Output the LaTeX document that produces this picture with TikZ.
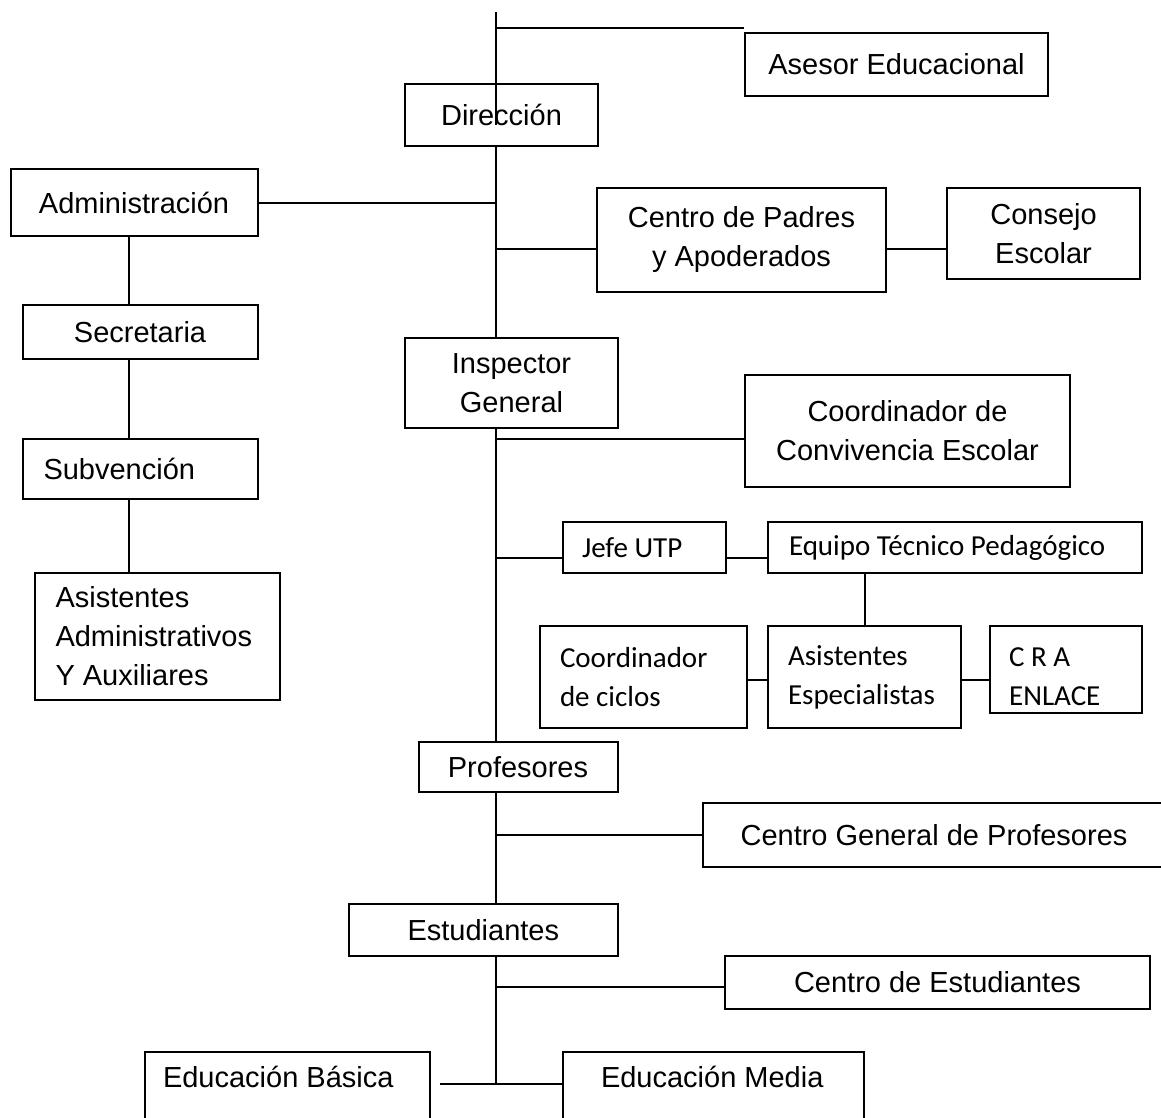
\documentclass[tikz,border=0pt]{standalone}
\usepackage{fontspec}
\setmainfont{Liberation Sans}
\newfontfamily\calibri{Carlito}
\begin{document}
\begin{tikzpicture}[x=1pt, y=-1pt, line width=2pt,
    org/.style={draw, inner sep=0pt, align=center, font=\fontsize{29}{39}\selectfont},
    sz/.style 2 args={minimum width=#1pt, minimum height=#2pt},
    lft/.style 2 args={align=left, inner xsep=#1pt, text width=#2pt,
        execute at begin node={\spaceskip=0pt\xspaceskip=0pt}},
    cal/.style={font=\calibri\fontsize{29}{39}\selectfont}]
\useasboundingbox (0,0) rectangle (1161,1118);
\clip (0,0) rectangle (1161,1118);

% main column
\node[org, sz={303}{63}] (ases) at (896.5,64.5) {Asesor Educacional};
\node[org, sz={193}{62}] (dir) at (501.5,115) {Dirección};
\node[org, sz={289}{104}] (padres) at (741.5,240) {Centro de Padres\\y Apoderados};
\node[org, sz={193}{91}] (consejo) at (1043.5,233.5) {Consejo\\Escolar};
\node[org, sz={213}{90}] (insp) at (511.5,383) {Inspector\\General};
\node[org, sz={325}{112}] (conv) at (907.5,431) {Coordinador de\\Convivencia Escolar};
\node[org, sz={199}{50}] (prof) at (518,767) {Profesores};
\node[org, sz={462}{64}] (cgp) at (934,835) {Centro General de Profesores};
\node[org, sz={269}{52}] (est) at (483.3,930) {Estudiantes};
\node[org, sz={425}{53}] (cest) at (937.5,982.5) {Centro de Estudiantes};
\node[org, sz={285}{88}, lft={18}{249}] (basica) at (287.5,1096) {Educación Básica\\\mbox{}};
\node[org, sz={301}{88}, lft={38}{225}] (media) at (713.5,1096) {Educación Media\\\mbox{}};

% left column
\node[org, sz={247}{67}] (admin) at (134,202.5) {Administración};
\node[org, sz={235}{54}] (sec) at (140,332) {Secretaria};
\node[org, sz={235}{60}, lft={21}{193}] (subv) at (140,469) {Subvención};
\node[org, sz={245}{127}, lft={20.5}{204}] (asad) at (157.5,636.5) {Asistentes\\Administrativos\\Y Auxiliares};

% UTP
\node[org, cal, sz={163}{51}, lft={19}{125}] (jefe) at (644.5,547.5) {Jefe UTP};
\node[org, cal, sz={374}{51}, lft={21}{332}] (equipo) at (955,547.5) {Equipo Técnico Pedagógico};
\node[org, cal, sz={207}{102}, lft={20.5}{166}] (ciclos) at (643,677) {Coordinador\\de ciclos};
\node[org, cal, sz={193}{102}, lft={20}{153}] (ae) at (864.5,677) {Asistentes\\Especialistas};
\node[org, cal, sz={152}{87}, lft={19.4}{113}, text height=34pt] (cra) at (1065.6,669.5) {C R A\\ENLACE};

\coordinate (t) at (496,12);
\coordinate (l) at (129,0);
\coordinate (ja) at (496,28);
\coordinate (jp) at (496,249);
\coordinate (jc) at (496,439);
\coordinate (ju) at (496,558);
\coordinate (jk) at (864,680);
\coordinate (jg) at (496,835);
\coordinate (je) at (496,987);
\coordinate (jb) at (496,1084);

\draw (t) -- ([yshift=-10pt]t |- dir.center);
\draw (ja) -- (ja -| ases.west);
\foreach \a/\b in {dir.south/insp.north, insp.south/prof.north, prof.south/est.north}
    \draw (t |- \a) -- (t |- \b);
\draw (t |- est.south) -- (jb);
\draw (admin.east) -- (t |- admin.east);
\draw (jp) -- (jp -| padres.west);
\draw (jp -| padres.east) -- (jp -| consejo.west);
\foreach \a/\b in {admin/sec, sec/subv, subv/asad}
    \draw (l |- \a.south) -- (l |- \b.north);
\draw (jc) -- (jc -| conv.west);
\draw (ju) -- (ju -| jefe.west);
\draw (ju -| jefe.east) -- (ju -| equipo.west);
\draw (equipo.south -| ae.north) -- (ae.north);
\draw (jk -| ciclos.east) -- (jk -| ae.west);
\draw (jk -| ae.east) -- (jk -| cra.west);
\draw (jg) -- (jg -| cgp.west);
\draw (je) -- (je -| cest.west);
\draw ([xshift=9pt]jb -| basica.east) -- (jb -| media.west);
\end{tikzpicture}
\end{document}
